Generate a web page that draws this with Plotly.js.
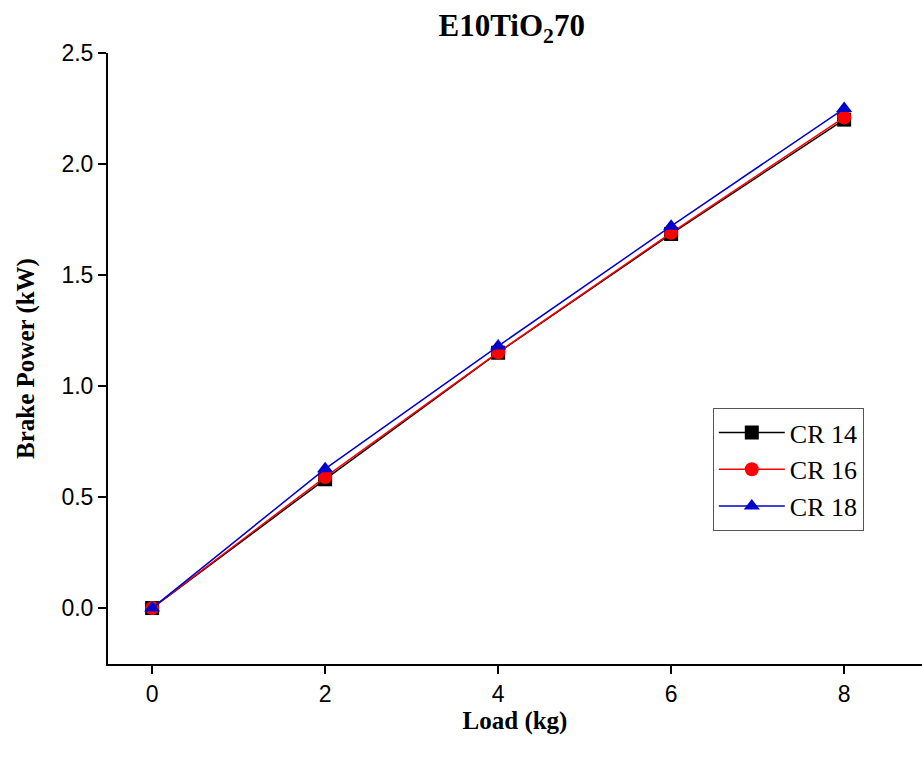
<!DOCTYPE html>
<html>
<head>
<meta charset="utf-8">
<script src="https://cdn.plot.ly/plotly-3.0.1.min.js"></script>
<style>html,body{margin:0;padding:0;background:#fff;}#chart{width:922px;height:764px;}</style>
</head>
<body>
<div id="chart"></div>
<script>
const load = [0, 2, 4, 6, 8];
const cr14 = [0, 0.58, 1.15, 1.685, 2.20];
const cr16 = [0, 0.59, 1.152, 1.69, 2.21];
const cr18 = [0, 0.627, 1.18, 1.72, 2.25];
const seriesNames = ['CR 14', 'CR 16', 'CR 18'];
const xTicks = [0, 2, 4, 6, 8];
const yTicks = [0.0, 0.5, 1.0, 1.5, 2.0, 2.5];

const mk = (y, name, color, symbol) => ({
  x: load, y: y, name: name, type: 'scatter', mode: 'lines+markers',
  line: {color: color, width: 1.5},
  marker: {color: color, symbol: symbol, size: 14}
});

const data = [
  mk(cr14, seriesNames[0], '#000000', 'square'),
  mk(cr16, seriesNames[1], '#ff0000', 'circle'),
  mk(cr18, seriesNames[2], '#0000cc', 'triangle-up')
];

const layout = {
  width: 922, height: 764,
  margin: {l: 108, r: 0, t: 53, b: 100},
  paper_bgcolor: '#fff', plot_bgcolor: '#fff',
  title: {text: '<b>E10TiO<sub>2</sub>70</b>', x: 0.555, xanchor: 'center', y: 0.967, yanchor: 'middle',
    font: {family: 'Liberation Serif, Times New Roman, serif', size: 31, color: '#000'}},
  xaxis: {
    range: [-0.51, 8.9], tickvals: xTicks, ticktext: xTicks.map(String),
    showgrid: false, zeroline: false, showline: true, linecolor: '#000', linewidth: 2,
    ticks: 'outside', ticklen: 8, tickwidth: 2, tickcolor: '#000',
    tickfont: {family: 'Liberation Sans, Arial, sans-serif', size: 23, color: '#000'},
    title: {text: '<b>Load (kg)</b>', standoff: 6,
      font: {family: 'Liberation Serif, Times New Roman, serif', size: 25, color: '#000'}}
  },
  yaxis: {
    range: [-0.252, 2.5], tickvals: yTicks, ticktext: yTicks.map(v => v.toFixed(1)),
    showgrid: false, zeroline: false, showline: true, linecolor: '#000', linewidth: 2,
    ticks: 'outside', ticklen: 8, tickwidth: 2, tickcolor: '#000',
    tickfont: {family: 'Liberation Sans, Arial, sans-serif', size: 23, color: '#000'},
    title: {text: '<b>Brake Power (kW)</b>', standoff: 20,
      font: {family: 'Liberation Serif, Times New Roman, serif', size: 25, color: '#000'}}
  },
  legend: {
    x: 0.743, y: 0.419, xanchor: 'left', yanchor: 'top',
    bgcolor: '#fff', bordercolor: '#555', borderwidth: 1,
    font: {family: 'Liberation Serif, Times New Roman, serif', size: 26, color: '#000'},
    tracegroupgap: 0, itemwidth: 66
  },
  showlegend: true
};

Plotly.newPlot('chart', data, layout, {displayModeBar: false, staticPlot: true});
</script>
</body>
</html>
